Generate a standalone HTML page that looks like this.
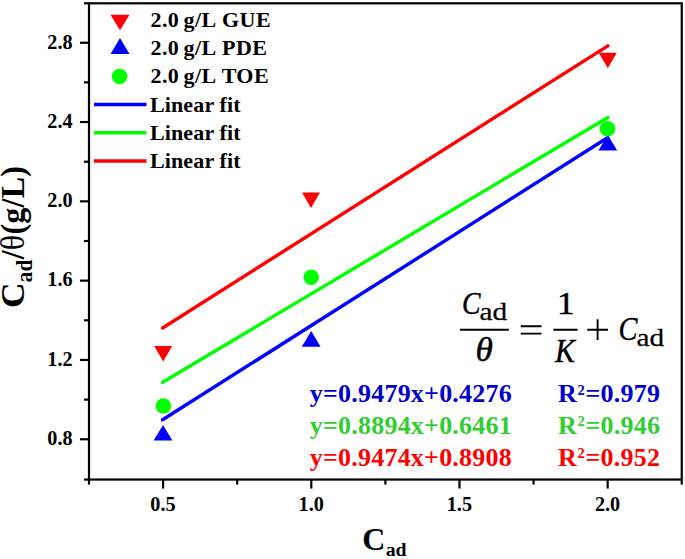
<!DOCTYPE html>
<html><head><meta charset="utf-8"><title>chart</title>
<style>
html,body{margin:0;padding:0;background:#fff;}
svg{display:block;}
text{font-family:"Liberation Serif",serif;font-weight:bold;}
.tk{font-size:20.2px;}
.lg{font-size:22px;letter-spacing:0.4px;}
.eq{font-size:26px;letter-spacing:0.22px;}
.ti{font-size:32px;}
.fm text{font-weight:normal;stroke:#000;}
</style></head><body>
<svg width="685" height="559" viewBox="0 0 685 559">
<rect width="685" height="559" fill="#fff"/>
<rect x="89" y="3.3" width="592.75" height="476.25" fill="none" stroke="#000" stroke-width="2.2"/>
<line x1="84" y1="479.55" x2="89" y2="479.55" stroke="#000" stroke-width="2.2"/>
<line x1="80" y1="439.25" x2="89" y2="439.25" stroke="#000" stroke-width="2.2"/>
<text class="tk" x="72.6" y="445.05" text-anchor="end">0.8</text>
<line x1="84" y1="399.60" x2="89" y2="399.60" stroke="#000" stroke-width="2.2"/>
<line x1="80" y1="359.95" x2="89" y2="359.95" stroke="#000" stroke-width="2.2"/>
<text class="tk" x="72.6" y="365.75" text-anchor="end">1.2</text>
<line x1="84" y1="320.30" x2="89" y2="320.30" stroke="#000" stroke-width="2.2"/>
<line x1="80" y1="280.65" x2="89" y2="280.65" stroke="#000" stroke-width="2.2"/>
<text class="tk" x="72.6" y="286.45" text-anchor="end">1.6</text>
<line x1="84" y1="241.00" x2="89" y2="241.00" stroke="#000" stroke-width="2.2"/>
<line x1="80" y1="201.35" x2="89" y2="201.35" stroke="#000" stroke-width="2.2"/>
<text class="tk" x="72.6" y="207.15" text-anchor="end">2.0</text>
<line x1="84" y1="161.70" x2="89" y2="161.70" stroke="#000" stroke-width="2.2"/>
<line x1="80" y1="122.05" x2="89" y2="122.05" stroke="#000" stroke-width="2.2"/>
<text class="tk" x="72.6" y="127.85" text-anchor="end">2.4</text>
<line x1="84" y1="82.40" x2="89" y2="82.40" stroke="#000" stroke-width="2.2"/>
<line x1="80" y1="42.75" x2="89" y2="42.75" stroke="#000" stroke-width="2.2"/>
<text class="tk" x="72.6" y="48.55" text-anchor="end">2.8</text>
<line x1="84" y1="3.30" x2="89" y2="3.30" stroke="#000" stroke-width="2.2"/>
<line x1="89.00" y1="479.55" x2="89.00" y2="484.55" stroke="#000" stroke-width="2.2"/>
<line x1="163.09" y1="479.55" x2="163.09" y2="488.55" stroke="#000" stroke-width="2.2"/>
<text class="tk" x="162.99" y="511.05" text-anchor="middle">0.5</text>
<line x1="237.19" y1="479.55" x2="237.19" y2="484.55" stroke="#000" stroke-width="2.2"/>
<line x1="311.28" y1="479.55" x2="311.28" y2="488.55" stroke="#000" stroke-width="2.2"/>
<text class="tk" x="311.18" y="511.05" text-anchor="middle">1.0</text>
<line x1="385.38" y1="479.55" x2="385.38" y2="484.55" stroke="#000" stroke-width="2.2"/>
<line x1="459.47" y1="479.55" x2="459.47" y2="488.55" stroke="#000" stroke-width="2.2"/>
<text class="tk" x="459.37" y="511.05" text-anchor="middle">1.5</text>
<line x1="533.56" y1="479.55" x2="533.56" y2="484.55" stroke="#000" stroke-width="2.2"/>
<line x1="607.66" y1="479.55" x2="607.66" y2="488.55" stroke="#000" stroke-width="2.2"/>
<text class="tk" x="607.56" y="511.05" text-anchor="middle">2.0</text>
<line x1="681.75" y1="479.55" x2="681.75" y2="484.55" stroke="#000" stroke-width="2.2"/>
<line x1="162.59" y1="419.81" x2="607.86" y2="137.56" stroke="#0000ff" stroke-width="3.4" stroke-linecap="round"/>
<line x1="162.59" y1="382.26" x2="607.86" y2="117.42" stroke="#00ff00" stroke-width="3.4" stroke-linecap="round"/>
<line x1="162.59" y1="327.94" x2="607.86" y2="45.84" stroke="#ff0000" stroke-width="3.4" stroke-linecap="round"/>
<polygon points="154.20,346.10 172.20,346.10 163.20,361.50" fill="#ff0000"/>
<polygon points="302.00,192.50 320.00,192.50 311.00,207.90" fill="#ff0000"/>
<polygon points="598.80,52.80 616.80,52.80 607.80,68.20" fill="#ff0000"/>
<polygon points="153.60,440.60 172.40,440.60 163.00,425.00" fill="#0000ff"/>
<polygon points="301.80,346.70 320.60,346.70 311.20,331.10" fill="#0000ff"/>
<polygon points="598.40,150.60 617.20,150.60 607.80,135.00" fill="#0000ff"/>
<circle cx="163.40" cy="406.00" r="7.8" fill="#00ff00"/>
<circle cx="311.20" cy="277.20" r="7.8" fill="#00ff00"/>
<circle cx="607.50" cy="128.80" r="7.8" fill="#00ff00"/>
<polygon points="110.50,14.70 129.50,14.70 120.00,30.30" fill="#ff0000"/>
<polygon points="110.50,53.90 129.50,53.90 120.00,37.90" fill="#0000ff"/>
<circle cx="119.60" cy="76.50" r="7.8" fill="#00ff00"/>
<text class="lg" x="150.5" y="27.2">2.0 <tspan dx="-1.5">g/L</tspan><tspan dx="0.8"> GUE</tspan></text>
<text class="lg" x="150.5" y="55.3">2.0 <tspan dx="-1.5">g/L</tspan><tspan dx="0.8"> PDE</tspan></text>
<text class="lg" x="150.5" y="83.1">2.0 <tspan dx="-1.5">g/L</tspan><tspan dx="0.8"> TOE</tspan></text>
<line x1="94" y1="104.6" x2="146.5" y2="104.6" stroke="#0000ff" stroke-width="3.5"/>
<text class="lg" x="149.9" y="111.7" style="letter-spacing:0.15px">Linear fit</text>
<line x1="94" y1="132.8" x2="146.5" y2="132.8" stroke="#00ff00" stroke-width="3.5"/>
<text class="lg" x="149.9" y="139.9" style="letter-spacing:0.15px">Linear fit</text>
<line x1="94" y1="161" x2="146.5" y2="161" stroke="#ff0000" stroke-width="3.5"/>
<text class="lg" x="149.9" y="168.1" style="letter-spacing:0.15px">Linear fit</text>
<text class="eq" x="309.8" y="402.3" fill="#0000cd">y=0.9479x+0.4276</text>
<text class="eq" x="558" y="402.3" fill="#0000cd">R<tspan font-size="14.5" dy="-7.8" dx="0.6">2</tspan><tspan dy="7.8" dx="0.4">=0.979</tspan></text>
<text class="eq" x="309.8" y="434" fill="#32cd32">y=0.8894x+0.6461</text>
<text class="eq" x="558" y="434" fill="#32cd32">R<tspan font-size="14.5" dy="-7.8" dx="0.6">2</tspan><tspan dy="7.8" dx="0.4">=0.946</tspan></text>
<text class="eq" x="309.8" y="465.6" fill="#ff0000">y=0.9474x+0.8908</text>
<text class="eq" x="558" y="465.6" fill="#ff0000">R<tspan font-size="14.5" dy="-7.8" dx="0.6">2</tspan><tspan dy="7.8" dx="0.4">=0.952</tspan></text>
<text class="ti" x="362.2" y="549.8">C</text><text class="ti" x="385.7" y="556.2" style="font-size:19.8px">ad</text>
<g transform="translate(24.4,307.9) rotate(-90) scale(1,1.05)"><text class="ti" x="0" y="0" textLength="25.6" lengthAdjust="spacingAndGlyphs">C</text><text class="ti" x="25.4" y="0" letter-spacing="0.25"><tspan font-size="21.5" dy="7">ad</tspan><tspan dy="-7">/</tspan><tspan font-weight="normal">θ</tspan>(g/L)</text></g>
<g class="fm"><text transform="translate(462,314.2) scale(0.854,1)" font-size="32.5" stroke-width="0.45" font-style="italic">C</text>
<text transform="translate(479.5,319.5) scale(1.17,1)" font-size="25" stroke-width="0.25">ad</text>
<text transform="translate(475.6,361.4) scale(1.055,1)" font-size="33.5" stroke-width="0.45" font-style="italic">θ</text>
<text transform="translate(557,313.8) scale(1.11,1)" font-size="31.7" stroke-width="0.45">1</text>
<text transform="translate(555.1,361.8) scale(0.91,1)" font-size="32.7" stroke-width="0.45" font-style="italic">K</text>
<text transform="translate(618.6,339.8) scale(0.845,1)" font-size="33.6" stroke-width="0.45" font-style="italic">C</text>
<text transform="translate(636.5,346.4) scale(1.17,1)" font-size="25" stroke-width="0.25">ad</text>
<path d="M460 329.7H508.8M553.4 329.7H577.6" stroke="#000" stroke-width="2" fill="none"/>
<path d="M520.7 326.3H541.5M520.7 333.6H541.5M587.3 329.7H608M597.6 319.3V340" stroke="#000" stroke-width="1.9" fill="none"/></g>
</svg>
</body></html>
